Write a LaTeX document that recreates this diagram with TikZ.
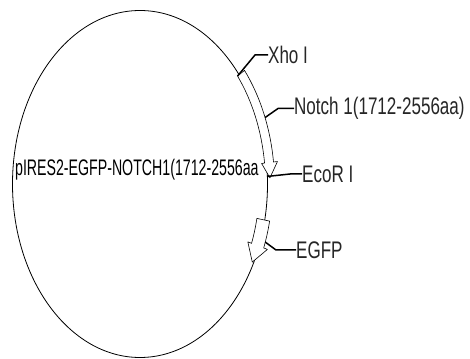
\documentclass[tikz,border=0pt]{standalone}
\usepackage{fontspec}
\setmainfont{Liberation Sans}
\usetikzlibrary{calc}

\begin{document}
\begin{tikzpicture}[x=1pt, y=1pt, line join=round,
    lbl/.style={font=\fontsize{24}{28}\selectfont, text=black!85, xscale=0.71, anchor=west, inner sep=0pt},
    title/.style={font=\fontsize{22.5}{26}\selectfont, xscale=0.63, anchor=west, inner sep=0pt},
    leader/.style={line width=1.5pt},
    gene/.style={draw, fill=white, line width=0.6pt}]
    \useasboundingbox (0,0) rectangle (470,358);
    \coordinate (c) at (140,174);
    \draw[line width=0.8pt] (c) ellipse [x radius=127.5, y radius=173.5];

    % Notch 1 insert
    \draw[gene] ($(c)+(39:125.5 and 171.5)$) coordinate (xsite)
        arc[start angle=39, end angle=7, x radius=125.5, y radius=171.5]
        -- ($(c)+(7:122.5 and 168.5)$) -- ($(c)+(2:130 and 176)$)
        -- ($(c)+(7:138.5 and 184.5)$) -- ($(c)+(7:134.5 and 180.5)$)
        arc[start angle=7, end angle=39, x radius=134.5, y radius=180.5] -- cycle;
    % EGFP
    \draw[gene] ($(c)+(-12:119.5 and 165.5)$)
        arc[start angle=-12, end angle=-21, x radius=119.5, y radius=165.5]
        -- ($(c)+(-21:115.5 and 161.5)$) -- ($(c)+(-27:126 and 172)$)
        -- ($(c)+(-21:136.5 and 182.5)$) -- ($(c)+(-21:132.5 and 178.5)$)
        arc[start angle=-21, end angle=-12, x radius=132.5, y radius=178.5] -- cycle;

    \coordinate (nsite) at ($(c)+(21.6:134.5 and 180.5)$);
    \coordinate (esite) at ($(c)+(2.5:127.5 and 173.5)$);
    \coordinate (gsite) at ($(c)+(-19:132.5 and 178.5)$);

    \node[lbl] (xho) at (268,303) {Xho I};
    \node[lbl] (notch) at (294,249.5) {Notch 1(1712-2556aa)};
    \node[lbl] (ecor) at (302,184) {EcoR I};
    \node[lbl] (egfp) at (296,108) {EGFP};
    \node[title] (name) at (15,188) {pIRES2-EGFP-NOTCH1(1712-2556aa};

    \draw[leader] (xsite) -- (255,303) -- (xho.west);
    \draw[leader] (nsite) -- (278,249.5) -- (notch.west);
    \draw[leader] (esite) -- (290,184) -- (ecor.west);
    \draw[leader] (gsite) -- (276,108) -- (egfp.west);
\end{tikzpicture}
\end{document}
